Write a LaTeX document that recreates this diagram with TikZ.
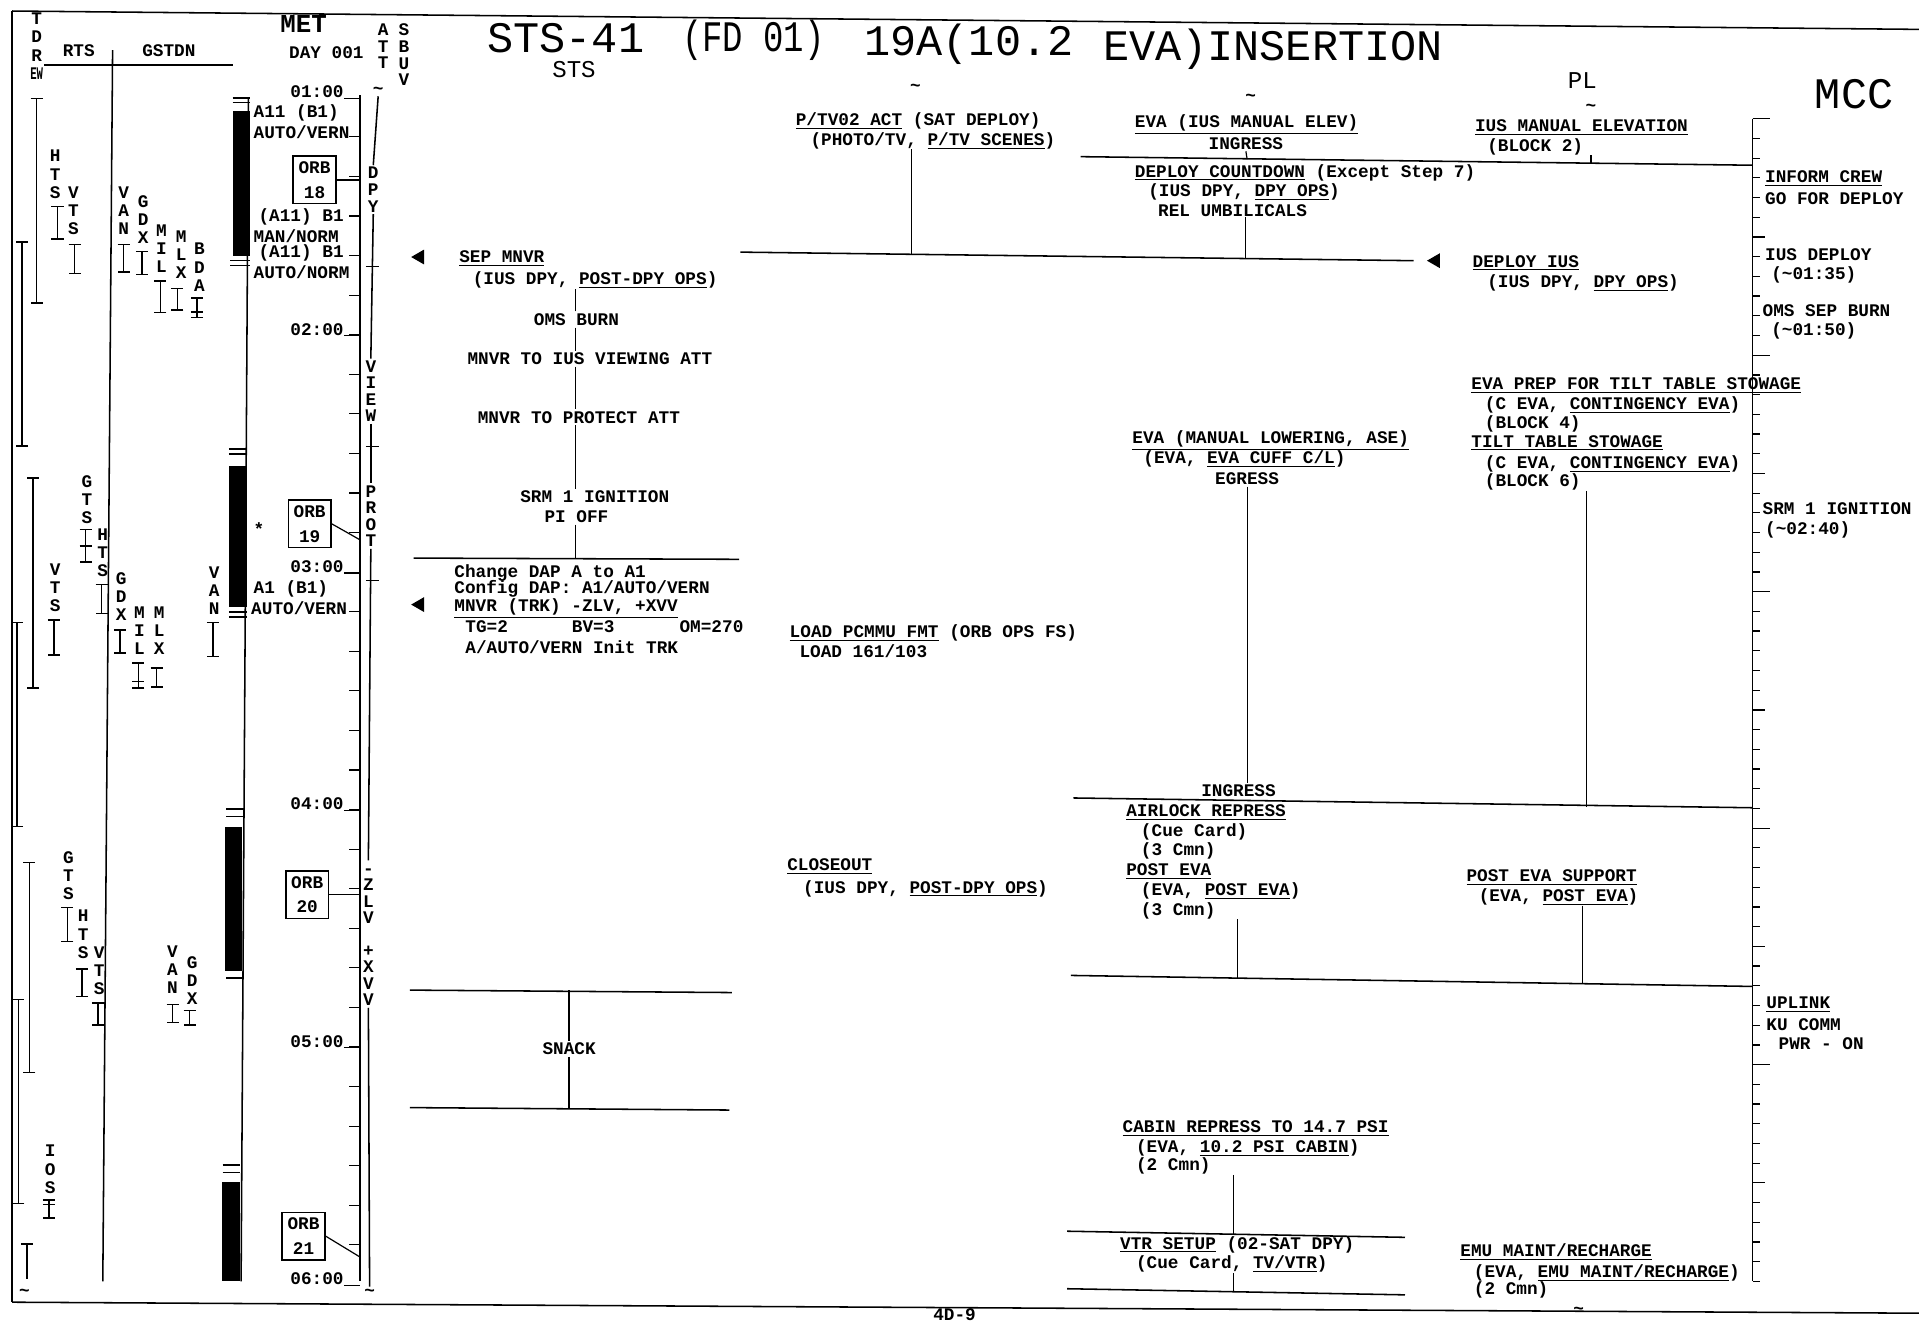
\documentclass[tikz,border=0pt]{standalone}
\usepackage{fontspec}
\usepackage{graphicx}
\usepackage{tikz}
\usetikzlibrary{arrows.meta,positioning,shapes.geometric}
\newfontfamily\monof{Liberation Mono}
\newcommand{\txtf}{\monof\bfseries\fontsize{10.3}{10.5}\selectfont}
\newcommand{\attf}{\monof\bfseries\fontsize{10.3}{9.6}\selectfont}
\newcommand{\ttlf}{\monof\fontsize{25.3}{28}\selectfont}
\newcommand{\hdf}{\monof\fontsize{14}{16}\selectfont}
\newcommand{\metf}{\monof\bfseries\fontsize{15}{16}\selectfont}

\begin{document}
\begin{tikzpicture}[
  x=0.025cm, y=-0.025cm,
  txt/.style={font=\txtf, inner sep=0pt, anchor=west},
  ctxt/.style={font=\txtf, inner sep=1pt},
  stk/.style={font=\txtf, inner sep=0pt, align=center, anchor=north},
  attstk/.style={font=\attf, inner sep=1pt, align=center, anchor=north},
  ttl/.style={font=\ttlf, inner sep=0pt, anchor=west},
  hd/.style={font=\hdf, inner sep=0pt},
  orb/.style={draw, line width=0.9pt, font=\txtf, align=center,
              minimum width=24.8pt, minimum height=27.6pt, inner sep=1pt},
  mk/.style={isosceles triangle, isosceles triangle apex angle=60, shape border rotate=180,
             fill=black, inner sep=0pt, minimum size=7.5pt},
  ib/.style={{Bar[width=7pt]}-{Bar[width=7pt]}, line width=0.9pt},
  rule/.style={line width=0.9pt},
  lnk/.style={line width=0.7pt}
]
  \useasboundingbox (0,0) rectangle (1568,1081);
  \fill[white] (0,0) rectangle (1568,1081);

  % page frame and title
  \draw[rule] (10,9) -- (1568,24);
  \draw[rule] (10,9) -- (10,1064);
  \draw[rule] (10,1064) -- (1568,1073);
  \node[ttl] (ttlsts) at (398,31) {STS-41};
  \node[ttl] (ttlfd) at (557,33) {\scalebox{0.78}[1]{(FD 01)}};
  \node[ttl] (ttl19) at (706,36) {19A(10.2};
  \node[ttl] (ttleva) at (901,40) {EVA)INSERTION};
  \node[hd] (hsts) at (469,57) {STS};
  \node[hd] (hpl) at (1293,66) {PL};
  \node[ttl, anchor=center] (hmcc) at (1515,77) {MCC};
  \node[ctxt] (tl1) at (748,72) {\textasciitilde};
  \node[ctxt] (tl2) at (1022,80) {\textasciitilde};
  \node[ctxt] (tl3) at (1300,88) {\textasciitilde};
  \node[ctxt] (pgno) at (780,1074.5) {4D-9};
  \node[ctxt] (tl4) at (1290,1071) {\textasciitilde};

  % ground station coverage
  \node[stk] (tdr) at (30,10.5) {T\\D\\R\\\scalebox{0.6}[1]{EW}};
  \node[txt] (rts) at (51,41) {RTS};
  \node[txt] (gstdn) at (116,41) {GSTDN};
  \coordinate (hdA) at (36,53);
  \coordinate (hdB) at (190,53);
  \coordinate (dvA) at (92,41);
  \coordinate (dvB) at (84,1047);
  \draw[rule] (hdA) -- (hdB);
  \draw[rule] (dvA) -- (dvB);
  \foreach \x/\ya/\yb in {30/80/248, 18/197/365, 27/390/563, 14/508/676, 24/704/877, 15/816/984}
    \draw[ib] (\x,\ya) -- (\x,\yb);
  \draw[{Bar[width=7pt]}-, line width=0.9pt] (22,1016) -- (22,1045);
  \node[ctxt] (tdend) at (20,1056) {\textasciitilde};
  \foreach \nm/\lt/\x/\y/\bx/\ya/\yb in {
      hts1/H\\T\\S/45/127/47/168/196, vts1/V\\T\\S/60/157/61/199/224,
      gts1/G\\T\\S/71/393/70/432/460, hts2/H\\T\\S/84/436/83/477/502,
      vts2/V\\T\\S/45/465/44/506/536, gts2/G\\T\\S/56/700/55/741/770,
      hts3/H\\T\\S/68/748/67/791/815, vts3/V\\T\\S/81/778/80/819/838,
      ios/I\\O\\S/41/940/40/980/996,
      van1/V\\A\\N/101/157/101/199/223, gdx1/G\\D\\X/117/164/116/205/225,
      mil1/M\\I\\L/132/188/131/229/256, mlx1/M\\L\\X/148/193/145/235/254,
      bda/B\\D\\A/163/203/161/243/260, gdx2/G\\D\\X/99/472/98/514/534,
      mil2/M\\I\\L/114/500/113/541/563, mlx2/M\\L\\X/130/500/128/545/562,
      van2/V\\A\\N/175/467/174/508/537, van3/V\\A\\N/141/777/141/820/836,
      gdx3/G\\D\\X/157/786/155/825/838} {
    \node[stk] (\nm) at (\x,{\y-4.5}) {\lt};
    \draw[ib] (\bx,\ya) -- (\bx,\yb);
  }
  \foreach \x/\y in {70/446, 161/255, 40/984, 113/557}
    \draw[line width=0.9pt] (\x-5,\y) -- (\x+5,\y);

  % orbiter attitude bar
  \fill (190,91) rectangle (204,209);
  \fill (187,381) rectangle (202,496);
  \fill (184,676) rectangle (198,793);
  \fill (181,966) rectangle (196,1047);
  \foreach \xa/\xb/\y in {190/204/80, 190/204/84, 188/204/213, 188/204/217, 187/202/367, 187/202/371,
                          187/202/500, 187/202/504, 185/199/661, 185/199/667, 185/199/799,
                          182/196/952, 182/196/958}
    \draw[line width=0.8pt] (\xa,\y) -- (\xb,\y);
  \draw[line width=0.9pt] (203,80) -- (197,1047);
  \node[txt] (dap1) at (207,92) {A11 (B1)};
  \node[txt] (dap1m) at (207,108) {AUTO/VERN};
  \node[txt] (dap2) at (211,177) {(A11) B1};
  \node[txt] (dap2m) at (207,193) {MAN/NORM};
  \node[txt] (dap3) at (211,207) {(A11) B1};
  \node[txt] (dap3m) at (207,222) {AUTO/NORM};
  \node[txt] (star) at (207,432) {*};
  \node[txt] (dap4) at (207,481) {A1 (B1)};
  \node[txt] (dap4m) at (205,497) {AUTO/VERN};

  % MET scale
  \node[font=\metf, inner sep=0pt] (met) at (248,20) {MET};
  \node[txt] (day) at (236,43) {DAY 001};
  \coordinate (metA) at (294,78);
  \coordinate (metB) at (294,1047);
  \draw[rule] (metA) -- (metB);
  \foreach \h in {1,...,6} {
    \node[txt, anchor=east] (t\h) at (281,{75+(\h-1)*194}) {0\h:00};
    \draw[lnk] (t\h.south east) -- (t\h.south east -| metA);
  }
  \foreach \k in {1,...,29}
    \draw[lnk] (294,{79.5+\k*32.333}) -- ++(-9,0);
  \node[orb] (orb18) at (257,147) {ORB\\[4pt]18};
  \node[orb] (orb19) at (253,428) {ORB\\[4pt]19};
  \node[orb] (orb20) at (251,731) {ORB\\[4pt]20};
  \node[orb] (orb21) at (248,1010) {ORB\\[4pt]21};
  \coordinate (ax18) at (294,147);
  \coordinate (ax19) at (294,441);
  \coordinate (ax20) at (294,731);
  \coordinate (ax21) at (294,1027);
  \draw[lnk] (orb18.east) -- (ax18);
  \draw[lnk] (orb19.east) -- (ax19);
  \draw[lnk] (orb20.east) -- (ax20);
  \draw[lnk] (orb21.east) -- (ax21);

  % attitude column
  \node[attstk] (att) at (313,18) {A\\T\\T};
  \node[attstk] (sbuv) at (330,18) {S\\B\\U\\V};
  \node[ctxt] (attcap) at (309,74) {\textasciitilde};
  \node[attstk] (dpy) at (305,135) {D\\P\\Y};
  \node[attstk] (view) at (303,293) {V\\I\\E\\W};
  \node[attstk] (prot) at (303,395) {P\\R\\O\\T};
  \node[attstk] (zlv) at (301,703) {\vphantom{X}-\\Z\\L\\V};
  \node[attstk] (xvv) at (301,770) {\vphantom{X}+\\X\\V\\V};
  \node[ctxt] (attend) at (302,1056) {\textasciitilde};
  \draw[rule] (attcap.south) -- (dpy.north);
  \draw[rule] (dpy.south) -- (view.north);
  \draw[rule] (view.south) -- (prot.north);
  \draw[rule] (prot.south) -- (zlv.north);
  \draw[rule] (xvv.south) -- (attend.north);
  \foreach \y in {218,365,474}
    \draw[lnk] (299,\y) -- (310,\y);

  % STS crew activities
  \node[mk] (mksep) at (343,210) {};
  \node[txt] (sep) at (375,211) {\underline{SEP MNVR}};
  \node[txt] (sepops) at (386,229) {(IUS DPY, \underline{POST-DPY OPS})};
  \node[ctxt] (oms) at (471,261) {OMS BURN};
  \node[ctxt] (iusv) at (482,293) {MNVR TO IUS VIEWING ATT};
  \node[ctxt] (protatt) at (473,341) {MNVR TO PROTECT ATT};
  \node[ctxt] (srm) at (486,406) {SRM 1 IGNITION};
  \node[ctxt] (pioff) at (471,422) {PI OFF};
  \coordinate (stsA) at (338,456);
  \coordinate (stsB) at (604,457);
  \coordinate (stsft) at (470,456);
  \draw[rule] (stsA) -- (stsB);
  \draw[lnk] (oms.north -| stsft) -- (sepops.south -| stsft);
  \draw[lnk] (oms.south -| stsft) -- (iusv.north -| stsft);
  \draw[lnk] (iusv.south -| stsft) -- (protatt.north -| stsft);
  \draw[lnk] (protatt.south -| stsft) -- (srm.north -| stsft);
  \draw[lnk] (pioff.south -| stsft) -- (stsft);
  \node[txt] (chg) at (371,468) {Change DAP A to A1};
  \node[txt] (cfg) at (371,481) {Config DAP: A1/AUTO/VERN};
  \node[mk] (mktrk) at (343,494) {};
  \node[txt] (trk) at (371,497) {\underline{MNVR (TRK) -ZLV, +XVV}};
  \node[txt] (tg) at (380,512) {TG=2};
  \node[txt] (bv) at (467,512) {BV=3};
  \node[txt] (om) at (555,512) {OM=270};
  \node[txt] (initrk) at (380,529) {A/AUTO/VERN Init TRK};
  \coordinate (snA) at (335,809);
  \coordinate (snB) at (598,811);
  \coordinate (snC) at (335,905);
  \coordinate (snD) at (596,907);
  \draw[rule] (snA) -- (snB);
  \draw[rule] (snC) -- (snD);
  \node[ctxt, fill=white] (snack) at (465,857) {SNACK};
  \draw[rule] (snack.north) -- (snack.north |- snA);
  \draw[rule] (snack.south) -- (snack.south |- snC);

  % photo/TV and payload activities
  \node[txt] (ptv) at (650,99) {\underline{P/TV02 ACT} (SAT DEPLOY)};
  \node[txt] (ptvsc) at (662,115) {(PHOTO/TV, \underline{P/TV SCENES})};
  \coordinate (ptvft) at (745,208);
  \draw[lnk] (ptvft |- ptvsc.south) -- (ptvft);
  \node[txt] (pcmmu) at (645,517) {\underline{LOAD PCMMU FMT} (ORB OPS FS)};
  \node[txt] (pcmld) at (653,532) {LOAD 161/103};
  \node[txt] (clsout) at (643,708) {\underline{CLOSEOUT}};
  \node[txt] (clsops) at (656,726) {(IUS DPY, \underline{POST-DPY OPS})};

  % EVA activities
  \node[txt] (evaelev) at (927,102) {\underline{EVA (IUS MANUAL ELEV)}};
  \node[ctxt] (ingr1) at (1018,117) {INGRESS};
  \node[txt] (iuselev) at (1205,104) {\underline{IUS MANUAL ELEVATION}};
  \node[txt] (blk2) at (1215,120) {(BLOCK 2)};
  \coordinate (eA) at (883,128);
  \coordinate (eB) at (1432,135);
  \coordinate (ingft) at (1019,130);
  \coordinate (b2ft) at (1300,133);
  \draw[rule] (eA) -- (eB);
  \draw[lnk] (ingr1.south) -- (ingft);
  \draw[lnk] (b2ft |- blk2.south) -- (b2ft);
  \node[txt] (dcd) at (927,141) {\underline{DEPLOY COUNTDOWN} (Except Step 7)};
  \node[txt] (dcdops) at (938,157) {(IUS DPY, \underline{DPY OPS})};
  \node[txt] (relumb) at (946,172) {REL UMBILICALS};
  \coordinate (dA) at (605,206);
  \coordinate (dB) at (1155,213);
  \coordinate (relft) at (1018,211);
  \draw[rule] (dA) -- (dB);
  \draw[lnk] (relft |- relumb.south) -- (relft);
  \node[mk] (mkdpy) at (1173,213) {};
  \node[txt] (dpyius) at (1203,215) {\underline{DEPLOY IUS}};
  \node[txt] (dpyops) at (1215,231) {(IUS DPY, \underline{DPY OPS})};
  \node[txt] (evaprep) at (1202,315) {\underline{EVA PREP FOR TILT TABLE STOWAGE}};
  \node[txt] (ceva1) at (1213,331) {(C EVA, \underline{CONTINGENCY EVA})};
  \node[txt] (blk4) at (1213,346) {(BLOCK 4)};
  \node[txt] (tilt) at (1202,362) {\underline{TILT TABLE STOWAGE}};
  \node[txt] (ceva2) at (1213,379) {(C EVA, \underline{CONTINGENCY EVA})};
  \node[txt] (blk6) at (1213,394) {(BLOCK 6)};
  \coordinate (b6ft) at (1296,659);
  \draw[lnk] (b6ft |- blk6.south) -- (b6ft);
  \node[txt] (evalow) at (925,360) {\underline{EVA (MANUAL LOWERING, ASE)}};
  \node[txt] (cuff) at (934,375) {(EVA, \underline{EVA CUFF C/L})};
  \node[ctxt] (egr) at (1019,391) {EGRESS};
  \node[ctxt] (ingr2) at (1012,646) {INGRESS};
  \draw[lnk] (egr.south) -- (egr.south |- ingr2.north);
  \coordinate (iA) at (877,652);
  \coordinate (iB) at (1432,660);
  \draw[rule] (iA) -- (iB);
  \node[txt] (airlk) at (920,664) {\underline{AIRLOCK REPRESS}};
  \node[txt] (cue1) at (932,680) {(Cue Card)};
  \node[txt] (cmn1) at (932,695) {(3 Cmn)};
  \node[txt] (postev) at (920,712) {\underline{POST EVA}};
  \node[txt] (postops) at (932,728) {(EVA, \underline{POST EVA})};
  \node[txt] (cmn2) at (932,744) {(3 Cmn)};
  \node[txt] (pes) at (1198,717) {\underline{POST EVA SUPPORT}};
  \node[txt] (pesops) at (1208,733) {(EVA, \underline{POST EVA})};
  \coordinate (pA) at (875,797);
  \coordinate (pB) at (1432,806);
  \coordinate (pevft) at (1011,799);
  \coordinate (pesft) at (1293,804);
  \draw[rule] (pA) -- (pB);
  \draw[lnk] (pevft |- cmn2.south) -- (pevft);
  \draw[lnk] (pesft |- pesops.south) -- (pesft);
  \node[txt] (cabin) at (917,922) {\underline{CABIN REPRESS TO 14.7 PSI}};
  \node[txt] (cabops) at (928,938) {(EVA, \underline{10.2 PSI CABIN})};
  \node[txt] (cmn3) at (928,953) {(2 Cmn)};
  \coordinate (cA) at (872,1006);
  \coordinate (cB) at (1148,1011);
  \coordinate (cabft) at (1008,1008);
  \draw[rule] (cA) -- (cB);
  \draw[lnk] (cabft |- cmn3.south) -- (cabft);
  \node[txt] (vtr) at (915,1017) {\underline{VTR SETUP} (02-SAT DPY)};
  \node[txt] (vtrops) at (928,1033) {(Cue Card, \underline{TV/VTR})};
  \coordinate (vA) at (872,1053);
  \coordinate (vB) at (1148,1058);
  \coordinate (vtrft) at (1008,1055);
  \draw[rule] (vA) -- (vB);
  \draw[lnk] (vtrft |- vtrops.south) -- (vtrft);
  \node[txt] (emu) at (1193,1023) {\underline{EMU MAINT/RECHARGE}};
  \node[txt] (emuops) at (1204,1040) {(EVA, \underline{EMU MAINT/RECHARGE})};
  \node[txt] (cmn4) at (1204,1054) {(2 Cmn)};

  % MCC scale
  \coordinate (mccA) at (1432,97);
  \coordinate (mccB) at (1432,1047);
  \draw[rule] (mccA) -- (mccB);
  \foreach \k in {0,...,59} {
    \pgfmathsetmacro\len{ifthenelse(mod(\k,12)==0,14,ifthenelse(mod(\k,6)==0,10,6))}
    \draw[lnk] (1432,{97+\k*16.1017}) -- ++(\len,0);
  }
  \node[txt] (inform) at (1442,146) {\underline{INFORM CREW}};
  \node[txt] (gofor) at (1442,162) {GO FOR DEPLOY};
  \node[txt] (iusdpy) at (1442,208) {IUS DEPLOY};
  \node[txt] (iusdpyt) at (1447,225) {(\textasciitilde01:35)};
  \node[txt] (omssep) at (1440,254) {OMS SEP BURN};
  \node[txt] (omssept) at (1447,270) {(\textasciitilde01:50)};
  \node[txt] (srmmcc) at (1440,416) {SRM 1 IGNITION};
  \node[txt] (srmmcct) at (1442,433) {(\textasciitilde02:40)};
  \node[txt] (uplink) at (1443,821) {\underline{UPLINK}};
  \node[txt] (kucomm) at (1443,837) {KU COMM};
  \node[txt] (kupwr) at (1453,853) {PWR - ON};
\end{tikzpicture}
\end{document}
